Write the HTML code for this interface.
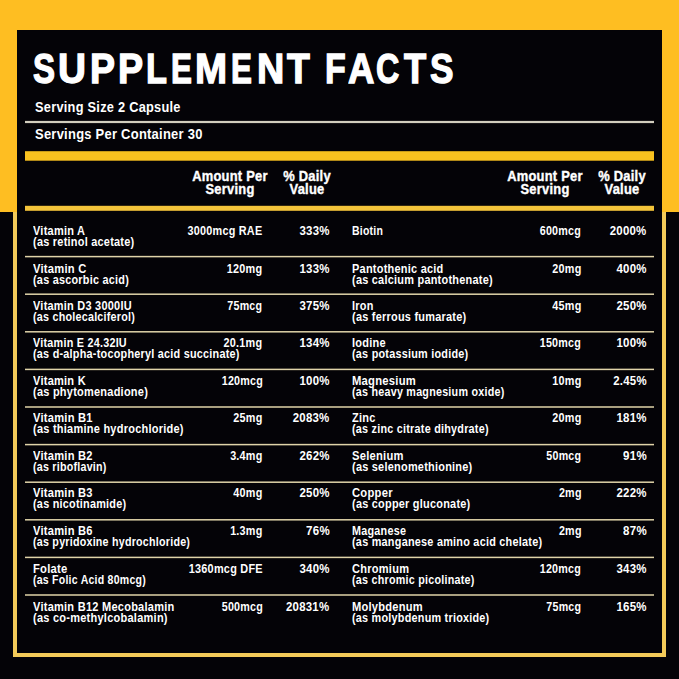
<!DOCTYPE html>
<html><head><meta charset="utf-8"><style>
html,body{margin:0;padding:0;}
body{width:679px;height:679px;position:relative;overflow:hidden;background:#040307;font-family:"Liberation Sans",sans-serif;}
.t{position:absolute;white-space:nowrap;color:#fff;}
.r{position:absolute;}
</style></head><body>
<div class="r" style="left:0;top:0;width:679px;height:212px;background:#FEBE22"></div>
<div class="r" style="left:17px;top:30px;width:645px;height:623px;background:#040307"></div>
<div class="r" style="left:13px;top:212px;width:4px;height:445px;background:#F3CA58"></div>
<div class="r" style="left:662px;top:212px;width:4px;height:445px;background:#F3CA58"></div>
<div class="r" style="left:13px;top:653px;width:653px;height:4px;background:#F3CA58"></div>

<svg class="r" style="left:0;top:0" width="679" height="679" viewBox="0 0 679 679"><rect x="25" y="120.9" width="629" height="2.2" fill="#D2CEBE"/><rect x="25" y="151.2" width="629" height="9.5" fill="#F9C21F"/><rect x="25" y="205.8" width="629" height="5" fill="#F4C43A"/><rect x="25" y="255.85" width="629" height="1.5" fill="#E0D3A8"/><rect x="25" y="293.45" width="629" height="1.5" fill="#E0D3A8"/><rect x="25" y="331.05" width="629" height="1.5" fill="#E0D3A8"/><rect x="25" y="368.65" width="629" height="1.5" fill="#E0D3A8"/><rect x="25" y="406.25" width="629" height="1.5" fill="#E0D3A8"/><rect x="25" y="443.85" width="629" height="1.5" fill="#E0D3A8"/><rect x="25" y="481.45" width="629" height="1.5" fill="#E0D3A8"/><rect x="25" y="519.05" width="629" height="1.5" fill="#E0D3A8"/><rect x="25" y="556.65" width="629" height="1.5" fill="#E0D3A8"/><rect x="25" y="594.25" width="629" height="1.5" fill="#E0D3A8"/></svg>
<div class="t" style="left:0;top:37.90px;width:679px;height:60px;font-size:0;line-height:0"><span style="display:inline-block;vertical-align:top;width:0;position:relative;left:32.84px;font-size:44.0px;line-height:60px;font-weight:700;transform:scale(0.7513,0.9600);transform-origin:0 45.25px;-webkit-text-stroke:1.4px #fff;">S</span><span style="display:inline-block;vertical-align:top;width:0;position:relative;left:57.97px;font-size:44.0px;line-height:60px;font-weight:700;transform:scale(0.8811,0.9600);transform-origin:0 45.25px;-webkit-text-stroke:1.4px #fff;">U</span><span style="display:inline-block;vertical-align:top;width:0;position:relative;left:89.79px;font-size:44.0px;line-height:60px;font-weight:700;transform:scale(0.8513,0.9600);transform-origin:0 45.25px;-webkit-text-stroke:1.4px #fff;">P</span><span style="display:inline-block;vertical-align:top;width:0;position:relative;left:117.68px;font-size:44.0px;line-height:60px;font-weight:700;transform:scale(0.8553,0.9600);transform-origin:0 45.25px;-webkit-text-stroke:1.4px #fff;">P</span><span style="display:inline-block;vertical-align:top;width:0;position:relative;left:145.90px;font-size:44.0px;line-height:60px;font-weight:700;transform:scale(0.7797,0.9600);transform-origin:0 45.25px;-webkit-text-stroke:1.4px #fff;">L</span><span style="display:inline-block;vertical-align:top;width:0;position:relative;left:170.80px;font-size:44.0px;line-height:60px;font-weight:700;transform:scale(0.7130,0.9600);transform-origin:0 45.25px;-webkit-text-stroke:1.4px #fff;">E</span><span style="display:inline-block;vertical-align:top;width:0;position:relative;left:195.32px;font-size:44.0px;line-height:60px;font-weight:700;transform:scale(0.8746,0.9600);transform-origin:0 45.25px;-webkit-text-stroke:1.4px #fff;">M</span><span style="display:inline-block;vertical-align:top;width:0;position:relative;left:231.10px;font-size:44.0px;line-height:60px;font-weight:700;transform:scale(0.7130,0.9600);transform-origin:0 45.25px;-webkit-text-stroke:1.4px #fff;">E</span><span style="display:inline-block;vertical-align:top;width:0;position:relative;left:256.57px;font-size:44.0px;line-height:60px;font-weight:700;transform:scale(0.8581,0.9600);transform-origin:0 45.25px;-webkit-text-stroke:1.4px #fff;">N</span><span style="display:inline-block;vertical-align:top;width:0;position:relative;left:287.39px;font-size:44.0px;line-height:60px;font-weight:700;transform:scale(0.8489,0.9600);transform-origin:0 45.25px;-webkit-text-stroke:1.4px #fff;">T</span> <span style="display:inline-block;vertical-align:top;width:0;position:relative;left:325.03px;font-size:44.0px;line-height:60px;font-weight:700;transform:scale(0.7710,0.9600);transform-origin:0 45.25px;-webkit-text-stroke:1.4px #fff;">F</span><span style="display:inline-block;vertical-align:top;width:0;position:relative;left:347.59px;font-size:44.0px;line-height:60px;font-weight:700;transform:scale(0.8298,0.9600);transform-origin:0 45.25px;-webkit-text-stroke:1.4px #fff;">A</span><span style="display:inline-block;vertical-align:top;width:0;position:relative;left:376.48px;font-size:44.0px;line-height:60px;font-weight:700;transform:scale(0.7332,0.9600);transform-origin:0 45.25px;-webkit-text-stroke:1.4px #fff;">C</span><span style="display:inline-block;vertical-align:top;width:0;position:relative;left:403.90px;font-size:44.0px;line-height:60px;font-weight:700;transform:scale(0.8257,0.9600);transform-origin:0 45.25px;-webkit-text-stroke:1.4px #fff;">T</span><span style="display:inline-block;vertical-align:top;width:0;position:relative;left:429.58px;font-size:44.0px;line-height:60px;font-weight:700;transform:scale(0.8006,0.9600);transform-origin:0 45.25px;-webkit-text-stroke:1.4px #fff;">S</span></div>
<div class="t" style="left:34.50px;top:92.10px;font-size:15px;line-height:30px;font-weight:700;transform:scaleX(0.8530);transform-origin:left center;letter-spacing:0.3px;">Serving Size 2 Capsule</div>
<div class="t" style="left:34.50px;top:119.10px;font-size:15px;line-height:30px;font-weight:700;transform:scaleX(0.8630);transform-origin:left center;letter-spacing:0.3px;">Servings Per Container 30</div>
<div class="t" style="left:129.50px;width:200px;text-align:center;top:161.10px;font-size:15px;line-height:30px;font-weight:700;transform:scaleX(0.86);letter-spacing:0.3px;-webkit-text-stroke:0.4px #fff">Amount Per</div>
<div class="t" style="left:129.80px;width:200px;text-align:center;top:173.50px;font-size:15px;line-height:30px;font-weight:700;transform:scaleX(0.86);letter-spacing:0.3px;-webkit-text-stroke:0.4px #fff">Serving</div>
<div class="t" style="left:207.00px;width:200px;text-align:center;top:161.10px;font-size:15px;line-height:30px;font-weight:700;transform:scaleX(0.86);letter-spacing:0.3px;-webkit-text-stroke:0.4px #fff">% Daily</div>
<div class="t" style="left:207.00px;width:200px;text-align:center;top:173.50px;font-size:15px;line-height:30px;font-weight:700;transform:scaleX(0.86);letter-spacing:0.3px;-webkit-text-stroke:0.4px #fff">Value</div>
<div class="t" style="left:444.50px;width:200px;text-align:center;top:161.10px;font-size:15px;line-height:30px;font-weight:700;transform:scaleX(0.86);letter-spacing:0.3px;-webkit-text-stroke:0.4px #fff">Amount Per</div>
<div class="t" style="left:444.80px;width:200px;text-align:center;top:173.50px;font-size:15px;line-height:30px;font-weight:700;transform:scaleX(0.86);letter-spacing:0.3px;-webkit-text-stroke:0.4px #fff">Serving</div>
<div class="t" style="left:522.00px;width:200px;text-align:center;top:161.10px;font-size:15px;line-height:30px;font-weight:700;transform:scaleX(0.86);letter-spacing:0.3px;-webkit-text-stroke:0.4px #fff">% Daily</div>
<div class="t" style="left:522.00px;width:200px;text-align:center;top:173.50px;font-size:15px;line-height:30px;font-weight:700;transform:scaleX(0.86);letter-spacing:0.3px;-webkit-text-stroke:0.4px #fff">Value</div>
<div class="t" style="left:33.00px;top:217.32px;font-size:13.5px;line-height:27.0px;font-weight:700;transform:scaleX(0.8128);transform-origin:left center;letter-spacing:0.3px;">Vitamin A</div>
<div class="t" style="left:33.00px;top:228.32px;font-size:13.5px;line-height:27.0px;font-weight:700;transform:scaleX(0.8097);transform-origin:left center;letter-spacing:0.3px;">(as retinol acetate)</div>
<div class="t" style="right:416.26px;top:217.32px;font-size:13.5px;line-height:27.0px;font-weight:700;transform:scaleX(0.8017);transform-origin:right center;letter-spacing:0.3px;">3000mcg RAE</div>
<div class="t" style="right:349.55px;top:217.32px;font-size:13.5px;line-height:27.0px;font-weight:700;transform:scaleX(0.8492);transform-origin:right center;letter-spacing:0.3px;">333%</div>
<div class="t" style="left:33.00px;top:255.32px;font-size:13.5px;line-height:27.0px;font-weight:700;transform:scaleX(0.8277);transform-origin:left center;letter-spacing:0.3px;">Vitamin C</div>
<div class="t" style="left:33.00px;top:266.32px;font-size:13.5px;line-height:27.0px;font-weight:700;transform:scaleX(0.8037);transform-origin:left center;letter-spacing:0.3px;">(as ascorbic acid)</div>
<div class="t" style="right:416.26px;top:255.32px;font-size:13.5px;line-height:27.0px;font-weight:700;transform:scaleX(0.8044);transform-origin:right center;letter-spacing:0.3px;">120mg</div>
<div class="t" style="right:349.55px;top:255.32px;font-size:13.5px;line-height:27.0px;font-weight:700;transform:scaleX(0.8492);transform-origin:right center;letter-spacing:0.3px;">133%</div>
<div class="t" style="left:33.00px;top:292.32px;font-size:13.5px;line-height:27.0px;font-weight:700;transform:scaleX(0.8110);transform-origin:left center;letter-spacing:0.3px;">Vitamin D3 3000IU</div>
<div class="t" style="left:33.00px;top:303.32px;font-size:13.5px;line-height:27.0px;font-weight:700;transform:scaleX(0.7958);transform-origin:left center;letter-spacing:0.3px;">(as cholecalciferol)</div>
<div class="t" style="right:416.26px;top:292.32px;font-size:13.5px;line-height:27.0px;font-weight:700;transform:scaleX(0.7898);transform-origin:right center;letter-spacing:0.3px;">75mcg</div>
<div class="t" style="right:349.55px;top:292.32px;font-size:13.5px;line-height:27.0px;font-weight:700;transform:scaleX(0.8492);transform-origin:right center;letter-spacing:0.3px;">375%</div>
<div class="t" style="left:33.00px;top:329.32px;font-size:13.5px;line-height:27.0px;font-weight:700;transform:scaleX(0.7999);transform-origin:left center;letter-spacing:0.3px;">Vitamin E 24.32IU</div>
<div class="t" style="left:33.00px;top:340.32px;font-size:13.5px;line-height:27.0px;font-weight:700;transform:scaleX(0.8029);transform-origin:left center;letter-spacing:0.3px;">(as d-alpha-tocopheryl acid succinate)</div>
<div class="t" style="right:416.26px;top:329.32px;font-size:13.5px;line-height:27.0px;font-weight:700;transform:scaleX(0.8038);transform-origin:right center;letter-spacing:0.3px;">20.1mg</div>
<div class="t" style="right:349.55px;top:329.32px;font-size:13.5px;line-height:27.0px;font-weight:700;transform:scaleX(0.8492);transform-origin:right center;letter-spacing:0.3px;">134%</div>
<div class="t" style="left:33.00px;top:367.32px;font-size:13.5px;line-height:27.0px;font-weight:700;transform:scaleX(0.8171);transform-origin:left center;letter-spacing:0.3px;">Vitamin K</div>
<div class="t" style="left:33.00px;top:378.32px;font-size:13.5px;line-height:27.0px;font-weight:700;transform:scaleX(0.8133);transform-origin:left center;letter-spacing:0.3px;">(as phytomenadione)</div>
<div class="t" style="right:416.26px;top:367.32px;font-size:13.5px;line-height:27.0px;font-weight:700;transform:scaleX(0.7947);transform-origin:right center;letter-spacing:0.3px;">120mcg</div>
<div class="t" style="right:349.55px;top:367.32px;font-size:13.5px;line-height:27.0px;font-weight:700;transform:scaleX(0.8492);transform-origin:right center;letter-spacing:0.3px;">100%</div>
<div class="t" style="left:33.00px;top:404.32px;font-size:13.5px;line-height:27.0px;font-weight:700;transform:scaleX(0.8239);transform-origin:left center;letter-spacing:0.3px;">Vitamin B1</div>
<div class="t" style="left:33.00px;top:415.32px;font-size:13.5px;line-height:27.0px;font-weight:700;transform:scaleX(0.8144);transform-origin:left center;letter-spacing:0.3px;">(as thiamine hydrochloride)</div>
<div class="t" style="right:416.26px;top:404.32px;font-size:13.5px;line-height:27.0px;font-weight:700;transform:scaleX(0.8005);transform-origin:right center;letter-spacing:0.3px;">25mg</div>
<div class="t" style="right:349.55px;top:404.32px;font-size:13.5px;line-height:27.0px;font-weight:700;transform:scaleX(0.8472);transform-origin:right center;letter-spacing:0.3px;">2083%</div>
<div class="t" style="left:33.00px;top:442.32px;font-size:13.5px;line-height:27.0px;font-weight:700;transform:scaleX(0.8239);transform-origin:left center;letter-spacing:0.3px;">Vitamin B2</div>
<div class="t" style="left:33.00px;top:453.32px;font-size:13.5px;line-height:27.0px;font-weight:700;transform:scaleX(0.7911);transform-origin:left center;letter-spacing:0.3px;">(as riboflavin)</div>
<div class="t" style="right:416.26px;top:442.32px;font-size:13.5px;line-height:27.0px;font-weight:700;transform:scaleX(0.7995);transform-origin:right center;letter-spacing:0.3px;">3.4mg</div>
<div class="t" style="right:349.55px;top:442.32px;font-size:13.5px;line-height:27.0px;font-weight:700;transform:scaleX(0.8492);transform-origin:right center;letter-spacing:0.3px;">262%</div>
<div class="t" style="left:33.00px;top:479.32px;font-size:13.5px;line-height:27.0px;font-weight:700;transform:scaleX(0.8239);transform-origin:left center;letter-spacing:0.3px;">Vitamin B3</div>
<div class="t" style="left:33.00px;top:490.32px;font-size:13.5px;line-height:27.0px;font-weight:700;transform:scaleX(0.8035);transform-origin:left center;letter-spacing:0.3px;">(as nicotinamide)</div>
<div class="t" style="right:416.26px;top:479.32px;font-size:13.5px;line-height:27.0px;font-weight:700;transform:scaleX(0.8005);transform-origin:right center;letter-spacing:0.3px;">40mg</div>
<div class="t" style="right:349.55px;top:479.32px;font-size:13.5px;line-height:27.0px;font-weight:700;transform:scaleX(0.8492);transform-origin:right center;letter-spacing:0.3px;">250%</div>
<div class="t" style="left:33.00px;top:517.32px;font-size:13.5px;line-height:27.0px;font-weight:700;transform:scaleX(0.8239);transform-origin:left center;letter-spacing:0.3px;">Vitamin B6</div>
<div class="t" style="left:33.00px;top:528.32px;font-size:13.5px;line-height:27.0px;font-weight:700;transform:scaleX(0.7917);transform-origin:left center;letter-spacing:0.3px;">(as pyridoxine hydrochloride)</div>
<div class="t" style="right:416.26px;top:517.32px;font-size:13.5px;line-height:27.0px;font-weight:700;transform:scaleX(0.7995);transform-origin:right center;letter-spacing:0.3px;">1.3mg</div>
<div class="t" style="right:349.54px;top:517.32px;font-size:13.5px;line-height:27.0px;font-weight:700;transform:scaleX(0.8529);transform-origin:right center;letter-spacing:0.3px;">76%</div>
<div class="t" style="left:33.00px;top:555.32px;font-size:13.5px;line-height:27.0px;font-weight:700;transform:scaleX(0.8321);transform-origin:left center;letter-spacing:0.3px;">Folate</div>
<div class="t" style="left:33.00px;top:566.32px;font-size:13.5px;line-height:27.0px;font-weight:700;transform:scaleX(0.7811);transform-origin:left center;letter-spacing:0.3px;">(as Folic Acid 80mcg)</div>
<div class="t" style="right:416.26px;top:555.32px;font-size:13.5px;line-height:27.0px;font-weight:700;transform:scaleX(0.8078);transform-origin:right center;letter-spacing:0.3px;">1360mcg DFE</div>
<div class="t" style="right:349.55px;top:555.32px;font-size:13.5px;line-height:27.0px;font-weight:700;transform:scaleX(0.8492);transform-origin:right center;letter-spacing:0.3px;">340%</div>
<div class="t" style="left:33.00px;top:593.32px;font-size:13.5px;line-height:27.0px;font-weight:700;transform:scaleX(0.8171);transform-origin:left center;letter-spacing:0.3px;">Vitamin B12 Mecobalamin</div>
<div class="t" style="left:33.00px;top:604.32px;font-size:13.5px;line-height:27.0px;font-weight:700;transform:scaleX(0.8158);transform-origin:left center;letter-spacing:0.3px;">(as co-methylcobalamin)</div>
<div class="t" style="right:416.26px;top:593.32px;font-size:13.5px;line-height:27.0px;font-weight:700;transform:scaleX(0.7947);transform-origin:right center;letter-spacing:0.3px;">500mcg</div>
<div class="t" style="right:349.55px;top:593.32px;font-size:13.5px;line-height:27.0px;font-weight:700;transform:scaleX(0.8458);transform-origin:right center;letter-spacing:0.3px;">20831%</div>
<div class="t" style="left:351.50px;top:217.32px;font-size:13.5px;line-height:27.0px;font-weight:700;transform:scaleX(0.7775);transform-origin:left center;letter-spacing:0.3px;">Biotin</div>
<div class="t" style="right:97.76px;top:217.32px;font-size:13.5px;line-height:27.0px;font-weight:700;transform:scaleX(0.7947);transform-origin:right center;letter-spacing:0.3px;">600mcg</div>
<div class="t" style="right:32.15px;top:217.32px;font-size:13.5px;line-height:27.0px;font-weight:700;transform:scaleX(0.8472);transform-origin:right center;letter-spacing:0.3px;">2000%</div>
<div class="t" style="left:351.50px;top:255.32px;font-size:13.5px;line-height:27.0px;font-weight:700;transform:scaleX(0.8115);transform-origin:left center;letter-spacing:0.3px;">Pantothenic acid</div>
<div class="t" style="left:351.50px;top:266.32px;font-size:13.5px;line-height:27.0px;font-weight:700;transform:scaleX(0.8093);transform-origin:left center;letter-spacing:0.3px;">(as calcium pantothenate)</div>
<div class="t" style="right:97.76px;top:255.32px;font-size:13.5px;line-height:27.0px;font-weight:700;transform:scaleX(0.8005);transform-origin:right center;letter-spacing:0.3px;">20mg</div>
<div class="t" style="right:32.15px;top:255.32px;font-size:13.5px;line-height:27.0px;font-weight:700;transform:scaleX(0.8492);transform-origin:right center;letter-spacing:0.3px;">400%</div>
<div class="t" style="left:351.50px;top:292.32px;font-size:13.5px;line-height:27.0px;font-weight:700;transform:scaleX(0.8062);transform-origin:left center;letter-spacing:0.3px;">Iron</div>
<div class="t" style="left:351.50px;top:303.32px;font-size:13.5px;line-height:27.0px;font-weight:700;transform:scaleX(0.8089);transform-origin:left center;letter-spacing:0.3px;">(as ferrous fumarate)</div>
<div class="t" style="right:97.76px;top:292.32px;font-size:13.5px;line-height:27.0px;font-weight:700;transform:scaleX(0.8005);transform-origin:right center;letter-spacing:0.3px;">45mg</div>
<div class="t" style="right:32.15px;top:292.32px;font-size:13.5px;line-height:27.0px;font-weight:700;transform:scaleX(0.8492);transform-origin:right center;letter-spacing:0.3px;">250%</div>
<div class="t" style="left:351.50px;top:329.32px;font-size:13.5px;line-height:27.0px;font-weight:700;transform:scaleX(0.8155);transform-origin:left center;letter-spacing:0.3px;">Iodine</div>
<div class="t" style="left:351.50px;top:340.32px;font-size:13.5px;line-height:27.0px;font-weight:700;transform:scaleX(0.8023);transform-origin:left center;letter-spacing:0.3px;">(as potassium iodide)</div>
<div class="t" style="right:97.76px;top:329.32px;font-size:13.5px;line-height:27.0px;font-weight:700;transform:scaleX(0.7947);transform-origin:right center;letter-spacing:0.3px;">150mcg</div>
<div class="t" style="right:32.15px;top:329.32px;font-size:13.5px;line-height:27.0px;font-weight:700;transform:scaleX(0.8492);transform-origin:right center;letter-spacing:0.3px;">100%</div>
<div class="t" style="left:351.50px;top:367.32px;font-size:13.5px;line-height:27.0px;font-weight:700;transform:scaleX(0.8327);transform-origin:left center;letter-spacing:0.3px;">Magnesium</div>
<div class="t" style="left:351.50px;top:378.32px;font-size:13.5px;line-height:27.0px;font-weight:700;transform:scaleX(0.7957);transform-origin:left center;letter-spacing:0.3px;">(as heavy magnesium oxide)</div>
<div class="t" style="right:97.76px;top:367.32px;font-size:13.5px;line-height:27.0px;font-weight:700;transform:scaleX(0.8005);transform-origin:right center;letter-spacing:0.3px;">10mg</div>
<div class="t" style="right:32.15px;top:367.32px;font-size:13.5px;line-height:27.0px;font-weight:700;transform:scaleX(0.8453);transform-origin:right center;letter-spacing:0.3px;">2.45%</div>
<div class="t" style="left:351.50px;top:404.32px;font-size:13.5px;line-height:27.0px;font-weight:700;transform:scaleX(0.8144);transform-origin:left center;letter-spacing:0.3px;">Zinc</div>
<div class="t" style="left:351.50px;top:415.32px;font-size:13.5px;line-height:27.0px;font-weight:700;transform:scaleX(0.8002);transform-origin:left center;letter-spacing:0.3px;">(as zinc citrate dihydrate)</div>
<div class="t" style="right:97.76px;top:404.32px;font-size:13.5px;line-height:27.0px;font-weight:700;transform:scaleX(0.8005);transform-origin:right center;letter-spacing:0.3px;">20mg</div>
<div class="t" style="right:32.15px;top:404.32px;font-size:13.5px;line-height:27.0px;font-weight:700;transform:scaleX(0.8492);transform-origin:right center;letter-spacing:0.3px;">181%</div>
<div class="t" style="left:351.50px;top:442.32px;font-size:13.5px;line-height:27.0px;font-weight:700;transform:scaleX(0.8289);transform-origin:left center;letter-spacing:0.3px;">Selenium</div>
<div class="t" style="left:351.50px;top:453.32px;font-size:13.5px;line-height:27.0px;font-weight:700;transform:scaleX(0.8095);transform-origin:left center;letter-spacing:0.3px;">(as selenomethionine)</div>
<div class="t" style="right:97.76px;top:442.32px;font-size:13.5px;line-height:27.0px;font-weight:700;transform:scaleX(0.7898);transform-origin:right center;letter-spacing:0.3px;">50mcg</div>
<div class="t" style="right:32.14px;top:442.32px;font-size:13.5px;line-height:27.0px;font-weight:700;transform:scaleX(0.8529);transform-origin:right center;letter-spacing:0.3px;">91%</div>
<div class="t" style="left:351.50px;top:479.32px;font-size:13.5px;line-height:27.0px;font-weight:700;transform:scaleX(0.8307);transform-origin:left center;letter-spacing:0.3px;">Copper</div>
<div class="t" style="left:351.50px;top:490.32px;font-size:13.5px;line-height:27.0px;font-weight:700;transform:scaleX(0.8081);transform-origin:left center;letter-spacing:0.3px;">(as copper gluconate)</div>
<div class="t" style="right:97.76px;top:479.32px;font-size:13.5px;line-height:27.0px;font-weight:700;transform:scaleX(0.7935);transform-origin:right center;letter-spacing:0.3px;">2mg</div>
<div class="t" style="right:32.15px;top:479.32px;font-size:13.5px;line-height:27.0px;font-weight:700;transform:scaleX(0.8492);transform-origin:right center;letter-spacing:0.3px;">222%</div>
<div class="t" style="left:351.50px;top:517.32px;font-size:13.5px;line-height:27.0px;font-weight:700;transform:scaleX(0.8001);transform-origin:left center;letter-spacing:0.3px;">Maganese</div>
<div class="t" style="left:351.50px;top:528.32px;font-size:13.5px;line-height:27.0px;font-weight:700;transform:scaleX(0.8048);transform-origin:left center;letter-spacing:0.3px;">(as manganese amino acid chelate)</div>
<div class="t" style="right:97.76px;top:517.32px;font-size:13.5px;line-height:27.0px;font-weight:700;transform:scaleX(0.7935);transform-origin:right center;letter-spacing:0.3px;">2mg</div>
<div class="t" style="right:32.14px;top:517.32px;font-size:13.5px;line-height:27.0px;font-weight:700;transform:scaleX(0.8529);transform-origin:right center;letter-spacing:0.3px;">87%</div>
<div class="t" style="left:351.50px;top:555.32px;font-size:13.5px;line-height:27.0px;font-weight:700;transform:scaleX(0.8185);transform-origin:left center;letter-spacing:0.3px;">Chromium</div>
<div class="t" style="left:351.50px;top:566.32px;font-size:13.5px;line-height:27.0px;font-weight:700;transform:scaleX(0.7957);transform-origin:left center;letter-spacing:0.3px;">(as chromic picolinate)</div>
<div class="t" style="right:97.76px;top:555.32px;font-size:13.5px;line-height:27.0px;font-weight:700;transform:scaleX(0.7947);transform-origin:right center;letter-spacing:0.3px;">120mcg</div>
<div class="t" style="right:32.15px;top:555.32px;font-size:13.5px;line-height:27.0px;font-weight:700;transform:scaleX(0.8492);transform-origin:right center;letter-spacing:0.3px;">343%</div>
<div class="t" style="left:351.50px;top:593.32px;font-size:13.5px;line-height:27.0px;font-weight:700;transform:scaleX(0.8228);transform-origin:left center;letter-spacing:0.3px;">Molybdenum</div>
<div class="t" style="left:351.50px;top:604.32px;font-size:13.5px;line-height:27.0px;font-weight:700;transform:scaleX(0.8015);transform-origin:left center;letter-spacing:0.3px;">(as molybdenum trioxide)</div>
<div class="t" style="right:97.76px;top:593.32px;font-size:13.5px;line-height:27.0px;font-weight:700;transform:scaleX(0.7898);transform-origin:right center;letter-spacing:0.3px;">75mcg</div>
<div class="t" style="right:32.15px;top:593.32px;font-size:13.5px;line-height:27.0px;font-weight:700;transform:scaleX(0.8492);transform-origin:right center;letter-spacing:0.3px;">165%</div>
</body></html>
